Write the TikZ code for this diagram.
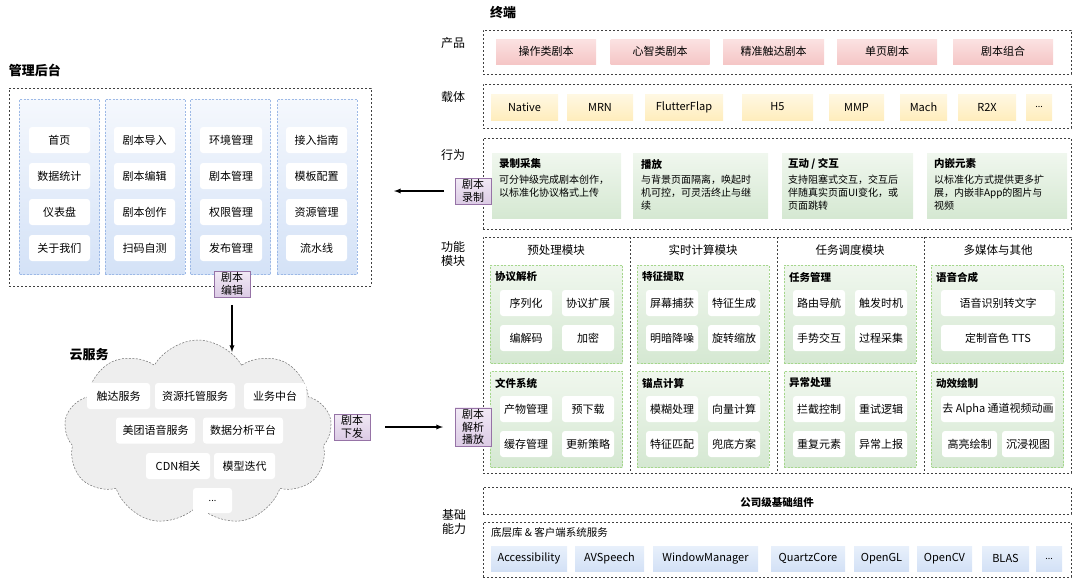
\documentclass[tikz,border=0pt]{standalone}
\usepackage{fontspec}
\setmainfont{Noto Sans CJK SC}
\usetikzlibrary{shapes.symbols}

\definecolor{admline}{HTML}{9DB9E6}
\definecolor{admtop}{HTML}{F5F8FD}
\definecolor{admbot}{HTML}{D4E2F7}
\definecolor{tagline}{HTML}{9673A6}
\definecolor{tagtop}{HTML}{F1E9F5}
\definecolor{tagbot}{HTML}{DCCBE5}
\definecolor{pinktop}{HTML}{FBE2E2}
\definecolor{pinkbot}{HTML}{F5C6C6}
\definecolor{yelltop}{HTML}{FFF8E3}
\definecolor{yellbot}{HTML}{FFEDBD}
\definecolor{greentop}{HTML}{F0F7EE}
\definecolor{greenbot}{HTML}{D5E8D2}
\definecolor{greenline}{HTML}{A5D68C}
\definecolor{bluetop}{HTML}{E8F0FB}
\definecolor{bluebot}{HTML}{D3E1F6}
\definecolor{cloudfill}{HTML}{EEEEEE}

\newcommand\fsz[2]{\fontsize{#1}{#2}\selectfont}

\begin{document}
\begin{tikzpicture}[x=1pt, y=-1pt]
\tikzset{ >=latex, inner sep=0pt, outer sep=0pt,
  frame/.style={draw=black!75, dash pattern=on 2pt off 2pt, line width=0.6pt},
  admcol/.style={draw=admline, dash pattern=on 2pt off 1.5pt, line width=0.5pt, top color=admtop, bottom color=admbot, minimum width=80, minimum height=175},
  item/.style={fill=white, rounded corners=3pt, minimum height=26, font=\fsz{11}{13}},
  tag/.style={draw=tagline, line width=0.6pt, top color=tagtop, bottom color=tagbot, minimum width=36, inner sep=1.5pt, align=center, font=\fsz{11}{12.5}},
  pinkbox/.style={top color=pinktop, bottom color=pinkbot, minimum height=25, font=\fsz{11}{13}},
  yellbox/.style={top color=yelltop, bottom color=yellbot, minimum height=26, font=\fsz{11}{13}},
  bluebox/.style={top color=bluetop, bottom color=bluebot, minimum height=25, font=\fsz{11}{13}},
  card/.style={top color=greentop, bottom color=greenbot, minimum height=65},
  panel/.style={draw=greenline, dash pattern=on 2pt off 1.5pt, line width=0.5pt, top color=greentop, bottom color=greenbot, minimum width=132},
  head/.style={font=\bfseries\fsz{10.5}{12}},
  body/.style={font=\fsz{10}{13}, align=left},
  lbl/.style={font=\fsz{12}{14}, align=center},
  title/.style={font=\bfseries\fsz{13}{15}},
  arrow/.style={->, line width=1.3pt},
}
\useasboundingbox (0,0) rectangle (1080,587);

%\draw [lightgray, dashed](0,0) grid[step=50] (1080,587);

% ---------- management backend
\node [title, anchor=west] (admtitle) at (9,70) {管理后台};
\node [frame, minimum width=362, minimum height=198] (admin) at (190,187) {};

\node [admcol] (col1) at (59.5,186.5) {};
\node [admcol] (col2) at (145,186.5) {};
\node [admcol] (col3) at (230.5,186.5) {};
\node [admcol] (col4) at (317,186.5) {};

\node [item, minimum width=61] (home) at (59.5,140) {首页};
\node [item, minimum width=61] (stats) at (59.5,176) {数据统计};
\node [item, minimum width=61] (dash) at (59.5,212) {仪表盘};
\node [item, minimum width=61] (about) at (59.5,248) {关于我们};

\node [item, minimum width=61] (import) at (144.5,140) {剧本导入};
\node [item, minimum width=61] (edit) at (144.5,176) {剧本编辑};
\node [item, minimum width=61] (create) at (144.5,212) {剧本创作};
\node [item, minimum width=61] (scan) at (144.5,248) {扫码自测};

\node [item, minimum width=62] (envmgr) at (231,140) {环境管理};
\node [item, minimum width=62] (scrmgr) at (231,176) {剧本管理};
\node [item, minimum width=62] (authmgr) at (231,212) {权限管理};
\node [item, minimum width=62] (pubmgr) at (231,248) {发布管理};

\node [item, minimum width=61] (guide) at (316.5,140) {接入指南};
\node [item, minimum width=61] (tmpl) at (316.5,176) {模板配置};
\node [item, minimum width=61] (resmgr) at (316.5,212) {资源管理};
\node [item, minimum width=61] (pipe) at (316.5,248) {流水线};

\node [tag] (tagedit) at (232,284) {剧本\\编辑};

% ---------- cloud services
\node [cloud, cloud puffs=9, cloud puff arc=120, aspect=1.5, draw=black!55, dash pattern=on 2pt off 1.5pt, line width=0.5pt, fill=cloudfill, minimum width=268, minimum height=186] (cloud) at (198,433) {};
\node [title] (cloudtitle) at (89,355) {云服务};

\node [item, minimum width=63] (reach) at (118.5,396) {触达服务};
\node [item, minimum width=80] (hosting) at (195,396) {资源托管服务};
\node [item, minimum width=62] (biz) at (275,396) {业务中台};
\node [item, minimum width=79] (voice) at (155.5,430.5) {美团语音服务};
\node [item, minimum width=80] (analytics) at (243,430.5) {数据分析平台};
\node [item, minimum width=64] (cdn) at (178,466) {CDN相关};
\node [item, minimum width=61] (model) at (244.5,466) {模型迭代};
\node [item, minimum width=39, minimum height=25, font=\fsz{9}{11}] (cmore) at (212.5,500.5) {...};

\node [tag] (tagissue) at (352,427) {剧本\\下发};

% ---------- terminal
\node [title] (termtitle) at (503,13) {终端};

\node [lbl] (lprod) at (453,43) {产品};
\node [frame, minimum width=588, minimum height=44] (prod) at (777,52) {};
\node [pinkbox, minimum width=100] (p1) at (546,51.5) {操作类剧本};
\node [pinkbox, minimum width=99] (p2) at (660,51.5) {心智类剧本};
\node [pinkbox, minimum width=101] (p3) at (773.5,51.5) {精准触达剧本};
\node [pinkbox, minimum width=100] (p4) at (887,51.5) {单页剧本};
\node [pinkbox, minimum width=100] (p5) at (1003,51.5) {剧本组合};

\node [lbl] (lcarr) at (453,97) {载体};
\node [frame, minimum width=588, minimum height=44] (carr) at (777,106) {};
\node [yellbox, minimum width=67] (y1) at (524.5,107) {Native};
\node [yellbox, minimum width=66] (y2) at (600,107) {MRN};
\node [yellbox, minimum width=78] (y3) at (684,107) {FlutterFlap};
\node [yellbox, minimum width=71] (y4) at (777.5,107) {H5};
\node [yellbox, minimum width=55] (y5) at (856.5,107) {MMP};
\node [yellbox, minimum width=47] (y6) at (923.5,107) {Mach};
\node [yellbox, minimum width=58] (y7) at (987,107) {R2X};
\node [yellbox, minimum width=26, font=\fsz{9}{11}] (y8) at (1039,107) {...};

\node [lbl] (lbeh) at (453,155) {行为};
\node [frame, minimum width=588, minimum height=91] (beh) at (777,183.5) {};
\node [card, minimum width=129] (c1) at (556.5,185.5) {};
\node [card, minimum width=135] (c2) at (700.5,185.5) {};
\node [card, minimum width=131] (c3) at (847.5,185.5) {};
\node [card, minimum width=140] (c4) at (997,185.5) {};
\node [head, anchor=west] (c1h) at (499,164) {录制采集};
\node [head, anchor=west] (c2h) at (641,164) {播放};
\node [head, anchor=west] (c3h) at (788,164) {互动 / 交互};
\node [head, anchor=west] (c4h) at (934,164) {内嵌元素};
\node [body, anchor=north west] (c1b) at (499,175) {可分钟级完成剧本创作，\\以标准化协议格式上传};
\node [body, anchor=north west] (c2b) at (641,175) {与背景页面隔离，唤起时\\机可控，可灵活终止与继\\续};
\node [body, anchor=north west] (c3b) at (788,175) {支持阻塞式交互，交互后\\伴随真实页面UI变化，或\\页面跳转};
\node [body, anchor=north west] (c4b) at (934,175) {以标准化方式提供更多扩\\展，内嵌非App的图片与\\视频};

\node [tag] (tagrec) at (473,191) {剧本\\录制};

% ---------- function modules
\node [lbl] (lfunc) at (453,254) {功能\\模块};
\node [frame, minimum width=588, minimum height=236] (func) at (777,355) {};
\draw [frame] (630,237) -- (630,473);
\draw [frame] (777,237) -- (777,473);
\draw [frame] (924,237) -- (924,473);

\node [lbl, font=\fsz{11.5}{13}] (m1) at (556,250) {预处理模块};
\node [lbl, font=\fsz{11.5}{13}] (m2) at (703,250) {实时计算模块};
\node [lbl, font=\fsz{11.5}{13}] (m3) at (850,250) {任务调度模块};
\node [lbl, font=\fsz{11.5}{13}] (m4) at (998,250) {多媒体与其他};

\node [panel, minimum height=98] (pa1) at (556.5,314) {};
\node [panel, minimum height=96] (pb1) at (556.5,419) {};
\node [panel, minimum height=98] (pa2) at (703,314) {};
\node [panel, minimum height=96] (pb2) at (703,419) {};
\node [panel, minimum height=98] (pa3) at (850,314) {};
\node [panel, minimum height=96] (pb3) at (850,419) {};
\node [panel, minimum height=98] (pa4) at (997.5,314) {};
\node [panel, minimum height=96] (pb4) at (997.5,419) {};

\node [head, anchor=west] (pa1h) at (495,277) {协议解析};
\node [head, anchor=west] (pb1h) at (495,383) {文件系统};
\node [head, anchor=west] (pa2h) at (642,277) {特征提取};
\node [head, anchor=west] (pb2h) at (642,383) {锚点计算};
\node [head, anchor=west] (pa3h) at (789,277) {任务管理};
\node [head, anchor=west] (pb3h) at (789,383) {异常处理};
\node [head, anchor=west] (pa4h) at (936,277) {语音合成};
\node [head, anchor=west] (pb4h) at (936,383) {动效绘制};

\node [item, minimum width=52] (serial) at (526,303) {序列化};
\node [item, minimum width=52] (protext) at (588,303) {协议扩展};
\node [item, minimum width=52] (codec) at (526,338) {编解码};
\node [item, minimum width=52] (encrypt) at (588,338) {加密};
\node [item, minimum width=52] (artifact) at (526,409) {产物管理};
\node [item, minimum width=52] (preload) at (588,409) {预下载};
\node [item, minimum width=52] (cache) at (526,444) {缓存管理};
\node [item, minimum width=52] (update) at (588,444) {更新策略};

\node [item, minimum width=52] (capture) at (672,303) {屏幕捕获};
\node [item, minimum width=52] (featgen) at (734,303) {特征生成};
\node [item, minimum width=52] (denoise) at (672,338) {明暗降噪};
\node [item, minimum width=52] (rotate) at (734,338) {旋转缩放};
\node [item, minimum width=52] (blur) at (672,409) {模糊处理};
\node [item, minimum width=52] (vector) at (734,409) {向量计算};
\node [item, minimum width=52] (match) at (672,444) {特征匹配};
\node [item, minimum width=52] (fallback) at (734,444) {兜底方案};

\node [item, minimum width=52] (route) at (819,303) {路由导航};
\node [item, minimum width=52] (trigger) at (881,303) {触发时机};
\node [item, minimum width=52] (gesture) at (819,338) {手势交互};
\node [item, minimum width=52] (process) at (881,338) {过程采集};
\node [item, minimum width=52] (intercept) at (819,409) {拦截控制};
\node [item, minimum width=52] (retry) at (881,409) {重试逻辑};
\node [item, minimum width=52] (dup) at (819,444) {重复元素};
\node [item, minimum width=52] (report) at (881,444) {异常上报};

\node [item, minimum width=114] (asr) at (998,303) {语音识别转文字};
\node [item, minimum width=114] (tts) at (998,338) {定制音色 TTS};
\node [item, minimum width=114] (alpha) at (998,409) {去 Alpha 通道视频动画};
\node [item, minimum width=55] (highlight) at (969.5,444) {高亮绘制};
\node [item, minimum width=52] (immersive) at (1028,444) {沉浸视图};

\node [tag] (tagplay) at (473,427) {剧本\\解析\\播放};

% ---------- base capabilities
\node [lbl] (lbase) at (454,522) {基础\\能力};
\node [frame, minimum width=588, minimum height=27] (company) at (777,500.5) {};
\node [head] (companyt) at (777,502) {公司级基础组件};
\node [frame, minimum width=588, minimum height=55] (sys) at (777,549.5) {};
\node [anchor=west, font=\fsz{10.5}{12}] (syst) at (491,533) {底层库 \& 客户端系统服务};
\node [bluebox, minimum width=76] (b1) at (529,558.5) {Accessibility};
\node [bluebox, minimum width=69] (b2) at (609.5,558.5) {AVSpeech};
\node [bluebox, minimum width=105] (b3) at (705.5,558.5) {WindowManager};
\node [bluebox, minimum width=74] (b4) at (808,558.5) {QuartzCore};
\node [bluebox, minimum width=55] (b5) at (881.5,558.5) {OpenGL};
\node [bluebox, minimum width=55] (b6) at (944.5,558.5) {OpenCV};
\node [bluebox, minimum width=47] (b7) at (1005.5,558.5) {BLAS};
\node [bluebox, minimum width=26, font=\fsz{9}{11}] (b8) at (1049,558.5) {...};

% ---------- arrows
\coordinate (cloudin) at (232,352);
\coordinate (adminin) at (394,191);
\draw [arrow, shorten <=8pt] (tagedit.south) -- (cloudin);
\draw [arrow, shorten <=11pt] (tagrec.west) -- (adminin);
\draw [arrow, shorten <=15pt, shorten >=12pt] (tagissue.east) -- (tagplay.west);

\end{tikzpicture}
\end{document}
